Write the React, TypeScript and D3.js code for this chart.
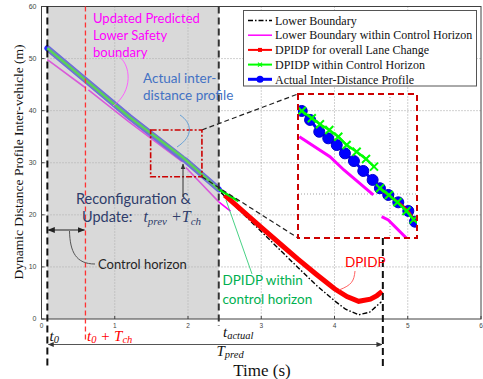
import React, { useEffect, useRef } from 'react';
import * as d3 from 'd3';

// axis ticks
const xTicks = [0, 1, 2, 3, 4, 5, 6];
const yTicks = [0, 10, 20, 30, 40, 50, 60];

// key instants (s)
const t0 = 0.08;
const tCh = 0.6;
const tActual = 2.42;
const tPred = 4.66;

// actual inter-distance profile (t, m)
const actualProfile: [number, number][] = [
    [0.08, 52.0], [0.6, 45.9], [1.2, 38.8], [1.93, 30.8], [1.97, 30.4], [2.42, 24.9],
];
// DPIDP within control horizon
const dpidpCH: [number, number][] = [
    [0.08, 52.0], [0.6, 45.9], [1.2, 38.8], [1.93, 31.0], [2.42, 24.9], [2.69, 22.6],
];
// lower boundary within control horizon, one piece per update
const lbCH1: [number, number][] = [[0.08, 49.8], [0.6, 44.4]];
const lbCH2: [number, number][] = [[0.64, 44.0], [1.19, 37.9], [1.92, 30.2]];
const lbCH3: [number, number][] = [[1.97, 29.1], [2.42, 22.5], [2.58, 20.7]];
// DPIDP for overall lane change
const dpidpAll: [number, number][] = [
    [2.5, 23.8], [3.0, 17.6], [3.26, 14.4], [3.5, 11.5], [3.75, 8.6], [4.0, 5.8],
    [4.17, 4.3], [4.33, 3.4], [4.49, 3.8], [4.58, 4.5], [4.65, 5.3],
];
// lower boundary
const lowerBoundary: [number, number][] = [
    [2.45, 24.3], [3.0, 16.8], [3.26, 13.2], [3.5, 9.9], [3.75, 6.5], [4.0, 3.5],
    [4.15, 1.9], [4.33, 0.8], [4.48, 1.3], [4.64, 3.3],
];

// zoomed window
const zoomX = [1.49, 2.19];
const zoomY = [27.3, 36.3];
const insetActual1: [number, number][] = [
    [1.512, 35.24], [1.561, 34.68], [1.615, 33.94], [1.668, 33.53], [1.718, 33.11],
    [1.766, 32.59], [1.819, 32.11], [1.874, 31.49], [1.929, 30.93],
];
const insetCH1: [number, number][] = [
    [1.512, 35.24], [1.571, 34.78], [1.619, 34.41], [1.674, 34.05], [1.727, 33.63],
    [1.776, 33.11], [1.835, 32.69], [1.89, 32.24], [1.937, 31.76],
];
const insetActual2: [number, number][] = [
    [1.972, 30.41], [2.021, 29.99], [2.08, 29.53], [2.139, 28.99], [2.178, 28.32],
];
const insetCH2: [number, number][] = [
    [1.972, 30.41], [2.025, 29.99], [2.075, 29.53], [2.128, 28.99], [2.17, 28.45],
];
const insetLB1: [number, number][] = [[1.498, 33.63], [1.678, 32.38], [1.76, 31.55], [1.933, 30.0]];
const insetLB2: [number, number][] = [[1.982, 28.63], [2.021, 28.43], [2.129, 27.28]];

const legendItems = [
    { label: 'Lower Boundary', color: '#000', dash: '5,2,1.5,2', width: 1.3, marker: 'none' },
    { label: 'Lower Boundary within Control Horizon', color: '#ff00ff', dash: '', width: 1.5, marker: 'none' },
    { label: 'DPIDP for overall Lane Change', color: '#ff0000', dash: '', width: 2, marker: 'square' },
    { label: 'DPIDP within Control Horizon', color: '#00ff00', dash: '', width: 2, marker: 'x' },
    { label: 'Actual Inter-Distance Profile', color: '#0000ff', dash: '', width: 3, marker: 'circle' },
];

const sans = 'Lato, "Open Sans", sans-serif';
const serif = '"Liberation Serif", "Times New Roman", serif';

function drawChart(node: SVGSVGElement) {
    const svg = d3.select(node);
    svg.selectAll('*').remove();

    const x = d3.scaleLinear().domain([0, 6]).range([41.5, 481]);
    const y = d3.scaleLinear().domain([0, 60]).range([319, 6.5]);
    const line = d3.line<[number, number]>().x(d => x(d[0])).y(d => y(d[1]));

    const defs = svg.append('defs');
    const arrow = (id: string, color: string) => {
        defs.append('marker')
            .attr('id', id)
            .attr('viewBox', '0 0 10 10')
            .attr('refX', 9).attr('refY', 5)
            .attr('markerWidth', 6).attr('markerHeight', 6)
            .attr('orient', 'auto-start-reverse')
            .append('path')
            .attr('d', 'M0,1 L10,5 L0,9 Z')
            .attr('fill', color);
    };
    arrow('arrBlack', '#222');
    arrow('arrGray', '#333');

    svg.append('rect').attr('width', 483).attr('height', 379).attr('fill', 'white');

    // grid
    const grid = svg.append('g')
        .attr('stroke', '#8c8c8c').attr('stroke-width', 0.8).attr('stroke-dasharray', '1,2');
    xTicks.slice(1, -1).forEach(t => {
        grid.append('line').attr('x1', x(t)).attr('x2', x(t)).attr('y1', y(60)).attr('y2', y(0));
    });
    yTicks.slice(1, -1).forEach(v => {
        grid.append('line').attr('x1', x(0)).attr('x2', x(6)).attr('y1', y(v)).attr('y2', y(v));
    });

    // data
    [lbCH1, lbCH2, lbCH3].forEach(seg => {
        svg.append('path').attr('d', line(seg)).attr('fill', 'none')
            .attr('stroke', '#ff00ff').attr('stroke-width', 1.6);
    });
    svg.append('path').attr('d', line(lowerBoundary)).attr('fill', 'none')
        .attr('stroke', '#000').attr('stroke-width', 1.4).attr('stroke-dasharray', '5,2,1.5,2');
    svg.append('path').attr('d', line(dpidpAll)).attr('fill', 'none')
        .attr('stroke', '#ff0000').attr('stroke-width', 5);
    svg.append('path').attr('d', line(actualProfile)).attr('fill', 'none')
        .attr('stroke', '#2a2aff').attr('stroke-width', 6).attr('stroke-linecap', 'round');
    svg.append('path').attr('d', line(dpidpCH)).attr('fill', 'none')
        .attr('stroke', '#00ee00').attr('stroke-width', 2.5);

    // gray region of control
    svg.append('rect')
        .attr('x', x(t0)).attr('y', y(60))
        .attr('width', x(tActual) - x(t0)).attr('height', y(0) - y(60))
        .attr('fill', '#b4b4b4').attr('opacity', 0.5);

    // axes frame + ticks
    svg.append('rect')
        .attr('x', x(0)).attr('y', y(60)).attr('width', x(6) - x(0)).attr('height', y(0) - y(60))
        .attr('fill', 'none').attr('stroke', '#404040').attr('stroke-width', 1);
    xTicks.forEach(t => {
        svg.append('line').attr('x1', x(t)).attr('x2', x(t)).attr('y1', y(0)).attr('y2', y(0) - 3)
            .attr('stroke', '#404040');
        svg.append('text').attr('x', x(t)).attr('y', y(0) + 8.5)
            .attr('text-anchor', 'middle').attr('font-size', 6.5).attr('fill', '#444')
            .attr('font-family', 'Arial, sans-serif').text(t);
    });
    yTicks.forEach(v => {
        svg.append('line').attr('x1', x(0)).attr('x2', x(0) + 3).attr('y1', y(v)).attr('y2', y(v))
            .attr('stroke', '#404040');
        svg.append('text').attr('x', x(0) - 5).attr('y', y(v)).attr('dy', '0.35em')
            .attr('text-anchor', 'end').attr('font-size', 7).attr('fill', '#444')
            .attr('font-family', 'Arial, sans-serif').text(v);
    });

    // axis titles
    svg.append('text').attr('x', 262).attr('y', 376).attr('text-anchor', 'middle')
        .attr('font-family', serif).attr('font-size', 17).attr('fill', '#111').text('Time (s)');
    svg.append('text').attr('transform', 'translate(23,162) rotate(-90)').attr('text-anchor', 'middle')
        .attr('font-family', serif).attr('font-size', 13.5).attr('fill', '#111')
        .text('Dynamic Distance Profile Inter-vehicle (m)');

    // vertical markers
    const vline = (t: number, y1: number, y2: number, color: string, w: number, dash: string) =>
        svg.append('line').attr('x1', x(t)).attr('x2', x(t)).attr('y1', y1).attr('y2', y2)
            .attr('stroke', color).attr('stroke-width', w).attr('stroke-dasharray', dash);
    vline(t0, y(60), 367, '#111', 2, '7,4');
    vline(tActual, y(60), 326, '#333', 2, '7,4');
    vline(tPred, 238, 367, '#111', 2, '7,4');
    vline(tCh, y(60), 342, '#ff3333', 1.3, '5,3');

    // control horizon arrow
    svg.append('line').attr('x1', x(t0) + 1).attr('x2', x(tCh) - 1).attr('y1', 230).attr('y2', 230)
        .attr('stroke', '#222').attr('stroke-width', 1.2)
        .attr('marker-start', 'url(#arrBlack)').attr('marker-end', 'url(#arrBlack)');
    svg.append('path').attr('d', 'M69.5,231 C70,252 76,264 95,264')
        .attr('fill', 'none').attr('stroke', '#555').attr('stroke-width', 1);
    svg.append('text').attr('x', 98).attr('y', 269).attr('font-family', sans).attr('font-size', 13)
        .attr('fill', '#262626').text('Control horizon');

    // T_pred arrow
    svg.append('line').attr('x1', x(t0) + 1).attr('x2', x(tPred) - 1).attr('y1', 344.5).attr('y2', 344.5)
        .attr('stroke', '#555').attr('stroke-width', 1)
        .attr('marker-start', 'url(#arrGray)').attr('marker-end', 'url(#arrGray)');

    // time symbols
    const sym = (xx: number, yy: number, color: string, parts: [string, boolean][]) => {
        const tx = svg.append('text').attr('x', xx).attr('y', yy).attr('font-family', serif)
            .attr('font-style', 'italic').attr('fill', color).attr('font-size', 15);
        parts.forEach(([s, sub]) => {
            tx.append('tspan').attr('font-size', sub ? 10.5 : 15)
                .attr('baseline-shift', sub ? '-22%' : '0%').text(s);
        });
    };
    sym(49.5, 341, '#111', [['t', false], ['0', true]]);
    sym(87, 341, '#ff0000', [['t', false], ['0', true], [' + T', false], ['ch', true]]);
    sym(223, 337, '#111', [['t', false], ['actual', true]]);
    sym(216.5, 356, '#111', [['T', false], ['pred', true]]);

    // zoom box and inset
    const bx0 = x(zoomX[0]), bx1 = x(zoomX[1]), by0 = y(zoomY[1]), by1 = y(zoomY[0]);
    const ix0 = 298, ix1 = 417, iy0 = 94, iy1 = 238;
    svg.append('line').attr('x1', bx1).attr('y1', by0).attr('x2', ix0).attr('y2', iy0)
        .attr('stroke', '#222').attr('stroke-width', 1.2).attr('stroke-dasharray', '5,3');
    svg.append('line').attr('x1', bx1).attr('y1', by1).attr('x2', ix0).attr('y2', iy1)
        .attr('stroke', '#222').attr('stroke-width', 1.2).attr('stroke-dasharray', '5,3');
    svg.append('rect').attr('x', bx0).attr('y', by0).attr('width', bx1 - bx0).attr('height', by1 - by0)
        .attr('fill', 'none').attr('stroke', '#cc0000').attr('stroke-width', 1.6)
        .attr('stroke-dasharray', '6,2,2,2');

    const ixs = d3.scaleLinear().domain(zoomX).range([ix0, ix1]);
    const iys = d3.scaleLinear().domain(zoomY).range([iy1, iy0]);
    const iline = d3.line<[number, number]>().x(d => ixs(d[0])).y(d => iys(d[1]));
    defs.append('clipPath').attr('id', 'insetClip').append('rect')
        .attr('x', ix0).attr('y', iy0).attr('width', ix1 - ix0).attr('height', iy1 - iy0);
    const inset = svg.append('g').attr('clip-path', 'url(#insetClip)');
    inset.append('line').attr('x1', 390).attr('x2', 390).attr('y1', iy0).attr('y2', iy1)
        .attr('stroke', '#8c8c8c').attr('stroke-width', 0.8).attr('stroke-dasharray', '1,2');
    inset.append('line').attr('x1', ix0).attr('x2', ix1).attr('y1', 194).attr('y2', 194)
        .attr('stroke', '#8c8c8c').attr('stroke-width', 0.8).attr('stroke-dasharray', '1,2');
    [insetLB1, insetLB2].forEach(seg => {
        inset.append('path').attr('d', iline(seg)).attr('fill', 'none')
            .attr('stroke', '#ff00ff').attr('stroke-width', 3);
    });
    [insetActual1, insetActual2].forEach(seg => {
        inset.append('path').attr('d', iline(seg)).attr('fill', 'none')
            .attr('stroke', '#0000ff').attr('stroke-width', 3);
        inset.selectAll(null).data(seg).enter().append('circle')
            .attr('cx', d => ixs(d[0])).attr('cy', d => iys(d[1])).attr('r', 5.5)
            .attr('fill', '#0000ff').attr('stroke', '#0000cc').attr('stroke-width', 1);
    });
    inset.append('path').attr('d', iline(insetActual2)).attr('fill', 'none')
        .attr('stroke', '#ff0000').attr('stroke-width', 2.5);
    [insetCH1, insetCH2].forEach(seg => {
        inset.append('path').attr('d', iline(seg)).attr('fill', 'none')
            .attr('stroke', '#00ff00').attr('stroke-width', 2.5);
        seg.forEach(d => {
            const cx = ixs(d[0]), cy = iys(d[1]);
            inset.append('path').attr('d', `M${cx - 4},${cy - 4}L${cx + 4},${cy + 4}M${cx - 4},${cy + 4}L${cx + 4},${cy - 4}`)
                .attr('stroke', '#00ff00').attr('stroke-width', 2);
        });
    });
    svg.append('rect').attr('x', ix0).attr('y', iy0).attr('width', ix1 - ix0).attr('height', iy1 - iy0)
        .attr('fill', 'none').attr('stroke', '#cc0000').attr('stroke-width', 2)
        .attr('stroke-dasharray', '6,4');

    // legend
    const legend = svg.append('g');
    legend.append('rect').attr('x', 243.5).attr('y', 10.5).attr('width', 233).attr('height', 75.5)
        .attr('fill', 'white').attr('stroke', '#555').attr('stroke-width', 1);
    legendItems.forEach((it, i) => {
        const ly = 20.5 + i * 14.7;
        legend.append('line').attr('x1', 248).attr('x2', 272).attr('y1', ly).attr('y2', ly)
            .attr('stroke', it.color).attr('stroke-width', it.width).attr('stroke-dasharray', it.dash);
        if (it.marker === 'square') {
            legend.append('rect').attr('x', 258).attr('y', ly - 2).attr('width', 4).attr('height', 4)
                .attr('fill', it.color);
        } else if (it.marker === 'x') {
            legend.append('path').attr('d', `M258,${ly - 2}L262,${ly + 2}M258,${ly + 2}L262,${ly - 2}`)
                .attr('stroke', it.color).attr('stroke-width', 1.2);
        } else if (it.marker === 'circle') {
            legend.append('circle').attr('cx', 260).attr('cy', ly).attr('r', 3.5).attr('fill', it.color);
        }
        legend.append('text').attr('x', 275).attr('y', ly).attr('dy', '0.35em')
            .attr('font-family', serif).attr('font-size', 12).attr('fill', '#111').text(it.label);
    });

    // annotations
    const note = (xx: number, yy: number, color: string, size: number, lines: string[], lh: number) => {
        lines.forEach((s, i) => {
            svg.append('text').attr('x', xx).attr('y', yy + i * lh).attr('font-family', sans)
                .attr('font-size', size).attr('fill', color).text(s);
        });
    };
    note(93, 23, '#ff00ff', 13, ['Updated Predicted', 'Lower Safety', 'boundary'], 16.8);
    svg.append('path').attr('d', 'M117,55 C132,64 133,92 113,106')
        .attr('fill', 'none').attr('stroke', '#ff55ff').attr('stroke-width', 0.9);
    note(143, 83, '#4472c4', 13.5, ['Actual inter-', 'distance profile'], 16.5);
    svg.append('path').attr('d', 'M180,115 C192,123 194,136 177,147')
        .attr('fill', 'none').attr('stroke', '#5b9bd5').attr('stroke-width', 0.9);
    note(76, 204, '#2f3d6b', 14.5, ['Reconfiguration &'], 17);
    const up = svg.append('text').attr('x', 82).attr('y', 222).attr('font-family', sans)
        .attr('font-size', 14.5).attr('fill', '#2f3d6b').attr('xml:space', 'preserve');
    up.append('tspan').text('Update:   ');
    up.append('tspan').attr('font-family', serif).attr('font-style', 'italic').attr('font-size', 16).text('t');
    up.append('tspan').attr('font-family', serif).attr('font-style', 'italic').attr('font-size', 11)
        .attr('baseline-shift', '-25%').text('prev');
    up.append('tspan').attr('font-family', serif).attr('font-style', 'italic').attr('font-size', 16).text(' +T');
    up.append('tspan').attr('font-family', serif).attr('font-style', 'italic').attr('font-size', 11)
        .attr('baseline-shift', '-25%').text('ch');
    svg.append('line').attr('x1', 183).attr('x2', 183).attr('y1', 197).attr('y2', 164)
        .attr('stroke', '#333').attr('stroke-width', 1).attr('marker-end', 'url(#arrGray)');

    note(222.5, 285, '#00b050', 13.5, ['DPIDP within', 'control horizon'], 18.5);
    svg.append('line').attr('x1', 226).attr('y1', 200).attr('x2', 252).attr('y2', 274)
        .attr('stroke', '#33cc77').attr('stroke-width', 0.9);
    note(345, 267, '#ff0000', 13.5, ['DPIDP'], 16);
    svg.append('path').attr('d', 'M355,271 C354,281 352,285 339,290')
        .attr('fill', 'none').attr('stroke', '#ff5050').attr('stroke-width', 0.9);
}

export default function App() {
    const ref = useRef<SVGSVGElement>(null);

    useEffect(() => {
        if (ref.current) drawChart(ref.current);
    }, []);

    return (
        <svg ref={ref} width={483} height={379}
            style={{ position: 'absolute', left: 0, top: 0, display: 'block' }} />
    );
}
